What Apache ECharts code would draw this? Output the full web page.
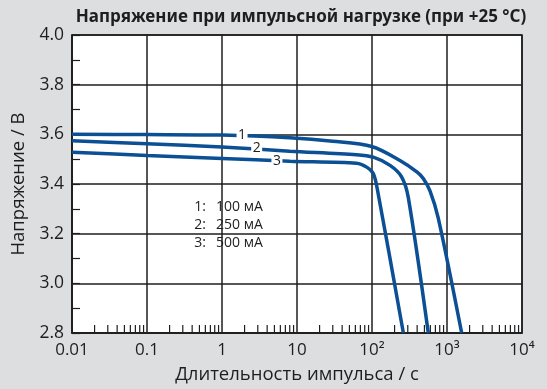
<!DOCTYPE html>
<html>
<head>
<meta charset="utf-8">
<script src="https://cdn.jsdelivr.net/npm/echarts@6/dist/echarts.min.js"></script>
<style>
    html, body { margin: 0; padding: 0; background: #dddee0; }
    #pulse_chart { width: 547px; height: 389px; }
</style>
</head>
<body>
<div id="pulse_chart"></div>
<script>
// Pulse duration (s) / voltage (V)
var curve100 = [
    [0.01, 3.600], [0.1, 3.599], [1, 3.597], [8, 3.586], [30, 3.572], [99, 3.551],
    [236, 3.495], [400, 3.448], [483, 3.422], [593, 3.372], [766, 3.262], [1570, 2.80]
];
var curve250 = [
    [0.01, 3.574], [0.1, 3.562], [1, 3.549], [8, 3.532], [62, 3.518], [104, 3.508],
    [174, 3.475], [248, 3.429], [305, 3.345], [563, 2.80]
];
var curve500 = [
    [0.01, 3.528], [0.1, 3.515], [1, 3.503], [8, 3.492], [62, 3.484], [85, 3.468],
    [104, 3.442], [118, 3.378], [262, 2.80]
];

// Curve number labels
var curveNames = ['1', '2', '3'];
var curveLabelAt = [[1.85, 3.597], [2.9, 3.543], [5.4, 3.494]];
var legendRows = [['1:', '100 мА'], ['2:', '250 мА'], ['3:', '500 мА']];

// X axis tick labels
var xTickValues = [0.01, 0.1, 1, 10, 100, 1000, 10000];
var xTickLabels = ['0.01', '0.1', '1', '10', '10²', '10³', '10⁴'];
var decades = [0.01, 0.1, 1, 10, 100, 1000];
var minorSteps = [2, 3, 4, 5, 6, 7, 8, 9];

var minorTicks = [];
decades.forEach(function (d) {
    minorSteps.forEach(function (m) {
        minorTicks.push([d * m, 2.8]);
    });
});

var chart_element = document.getElementById('pulse_chart');
var chart = echarts.init(chart_element);

var blue = '#0b4f95';
var ink = '#1e1e1e';
var font = 'Open Sans, sans-serif';

function curveSeries(data, idx) {
    return {
        type: 'line',
        data: data,
        smooth: 0.3,
        showSymbol: false,
        symbol: 'none',
        z: 3,
        lineStyle: { color: blue, width: 3.5 },
        markPoint: {
            symbol: 'rect',
            symbolSize: [11, 14],
            itemStyle: { color: '#fff' },
            label: {
                show: true,
                color: ink,
                fontSize: 14,
                fontFamily: font,
                formatter: curveNames[idx]
            },
            data: [{ coord: curveLabelAt[idx] }]
        }
    };
}

function legendText(x, y, text, align) {
    return {
        type: 'text', x: x, y: y,
        style: { text: text, align: align, verticalAlign: 'middle', fontSize: 14, fill: ink, fontFamily: font }
    };
}

chart.setOption({
    animation: false,
    backgroundColor: '#dddee0',
    textStyle: {
        fontFamily: font
    },
    title: {
        text: 'Напряжение при импульсной нагрузке (при +25 °C)',
        left: 296,
        textAlign: 'center',
        top: 4,
        textStyle: {
            fontSize: 17,
            fontWeight: 'bold',
            color: ink,
            fontFamily: 'Noto Sans, sans-serif'
        }
    },
    grid: {
        left: 72,
        right: 25,
        top: 35,
        bottom: 53,
        show: true,
        backgroundColor: '#fff',
        borderColor: ink,
        borderWidth: 1.5
    },
    xAxis: {
        type: 'log',
        logBase: 10,
        min: 0.01,
        max: 10000,
        interval: 1,
        name: 'Длительность импульса / с',
        nameLocation: 'middle',
        nameGap: 32,
        nameTextStyle: { fontSize: 18.5, color: ink },
        axisLine: { lineStyle: { color: ink, width: 1.5 } },
        axisTick: { show: false },
        axisLabel: {
            fontSize: 17,
            color: ink,
            margin: 9,
            formatter: function (v) {
                for (var i = 0; i < xTickValues.length; i++) {
                    if (Math.abs(Math.log10(v) - Math.log10(xTickValues[i])) < 1e-6) return xTickLabels[i];
                }
                return '';
            }
        },
        splitLine: { show: true, lineStyle: { color: ink, width: 1.5 } }
    },
    yAxis: {
        type: 'value',
        min: 2.8,
        max: 4.0,
        interval: 0.2,
        name: 'Напряжение / В',
        nameLocation: 'middle',
        nameGap: 36,
        nameTextStyle: { fontSize: 18.5, color: ink },
        axisLine: { show: true, lineStyle: { color: ink, width: 1.5 } },
        axisTick: { show: true, inside: true, length: 8, lineStyle: { color: ink, width: 1.2 } },
        minorTick: { show: true, splitNumber: 2, length: 8, lineStyle: { color: ink, width: 1.2 } },
        axisLabel: {
            fontSize: 17.5,
            color: ink,
            margin: 8,
            formatter: function (v) { return v.toFixed(1); }
        },
        splitLine: { show: true, lineStyle: { color: ink, width: 1.5 } }
    },
    graphic: [{
        type: 'group',
        left: 185,
        top: 195,
        children: [
            { type: 'rect', shape: { x: 0, y: 0, width: 86, height: 58 }, style: { fill: '#fff' } },
            legendText(21, 12, legendRows[0][0], 'right'),
            legendText(31, 12, legendRows[0][1], 'left'),
            legendText(21, 30, legendRows[1][0], 'right'),
            legendText(31, 30, legendRows[1][1], 'left'),
            legendText(21, 48, legendRows[2][0], 'right'),
            legendText(31, 48, legendRows[2][1], 'left')
        ]
    }],
    series: [
        curveSeries(curve100, 0),
        curveSeries(curve250, 1),
        curveSeries(curve500, 2),
        {
            // minor log ticks along the bottom axis
            type: 'custom',
            coordinateSystem: 'cartesian2d',
            data: minorTicks,
            encode: { x: 0, y: 1 },
            silent: true,
            z: 2,
            renderItem: function (params, api) {
                var p = api.coord([api.value(0), api.value(1)]);
                return {
                    type: 'line',
                    shape: { x1: p[0], y1: p[1], x2: p[0], y2: p[1] - 8 },
                    style: { stroke: ink, lineWidth: 1.2 }
                };
            }
        }
    ]
});
</script>
</body>
</html>
